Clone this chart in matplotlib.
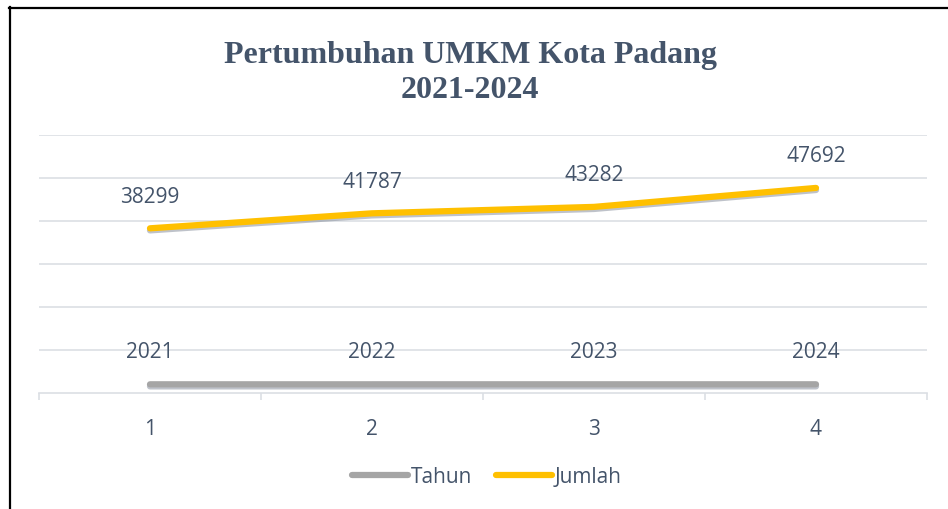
import matplotlib

matplotlib.use("Agg")

import matplotlib.pyplot as plt
import matplotlib.patheffects as pe
from matplotlib.lines import Line2D

categories = [1, 2, 3, 4]
tahun = [2021, 2022, 2023, 2024]
jumlah = [38299, 41787, 43282, 47692]

TEXT = "#44546A"
GRID = "#DCDFE4"

W, H = 948, 510
fig = plt.figure(figsize=(W / 100, H / 100), dpi=100)
fig.patch.set_facecolor("white")

ax = fig.add_axes([39 / W, 116 / H, 888 / W, 258 / H])
ax.set_xlim(0.5, 4.5)
ax.set_ylim(0, 60000)
ax.set_yticks(range(10000, 60001, 10000))
ax.yaxis.grid(True, color=GRID, lw=1.2)
ax.set_axisbelow(True)
ax.tick_params(axis="y", length=0, labelleft=False)
for side in ["left", "right", "top"]:
    ax.spines[side].set_visible(False)
ax.spines["bottom"].set_color(GRID)
ax.spines["bottom"].set_linewidth(1.2)

ax.set_xticks(categories)
ax.set_xticklabels([str(c) for c in categories], fontsize=15, color=TEXT,
                   family="Open Sans")
ax.tick_params(axis="x", which="major", length=0, pad=18)
ax.set_xticks([0.5, 1.5, 2.5, 3.5, 4.5], minor=True)
ax.tick_params(axis="x", which="minor", length=5, color=GRID, width=1.2)

shadow = [pe.SimpleLineShadow(offset=(0, -1.5), shadow_color="#7f8796", alpha=0.5),
          pe.Normal()]
ax.plot(categories, tahun, color="#A5A5A5", lw=4.5, solid_capstyle="round",
        path_effects=shadow, label="Tahun")
ax.plot(categories, jumlah, color="#FFC000", lw=4.5, solid_capstyle="round",
        path_effects=shadow, label="Jumlah")

for x, v in zip(categories, tahun):
    ax.annotate(str(v), (x, v), xytext=(0, 33), textcoords="offset pixels",
                ha="center", va="center", fontsize=15, color=TEXT,
                family="Open Sans")
for x, v in zip(categories, jumlah):
    ax.annotate(str(v), (x, v), xytext=(0, 32), textcoords="offset pixels",
                ha="center", va="center", fontsize=15, color=TEXT,
                family="Open Sans")

fig.text(470 / W, 1 - 55 / H, "Pertumbuhan UMKM Kota Padang", ha="center",
         va="center", fontsize=23, fontweight="bold", color=TEXT,
         family="Liberation Serif")
fig.text(470 / W, 1 - 91 / H, "2021-2024", ha="center", va="center",
         fontsize=23, fontweight="bold", color=TEXT, family="Liberation Serif")

leg = fig.legend(loc="center", bbox_to_anchor=(487 / W, 1 - 478 / H), ncol=2,
                 frameon=False, handlelength=2.7, handletextpad=0.15,
                 columnspacing=1.1, prop={"family": "Open Sans", "size": 15})
for t in leg.get_texts():
    t.set_color(TEXT)
for h in leg.legend_handles:
    h.set_path_effects([])

# outer frame (left and top edges visible in the reference)
fig.add_artist(Line2D([9.5 / W, 9.5 / W], [0, 1 - 8 / H], color="black", lw=1.6,
                      transform=fig.transFigure))
fig.add_artist(Line2D([9 / W, 1], [1 - 8.5 / H, 1 - 8.5 / H], color="black",
                      lw=1.6, transform=fig.transFigure))

fig.savefig("out.png", dpi=100)
